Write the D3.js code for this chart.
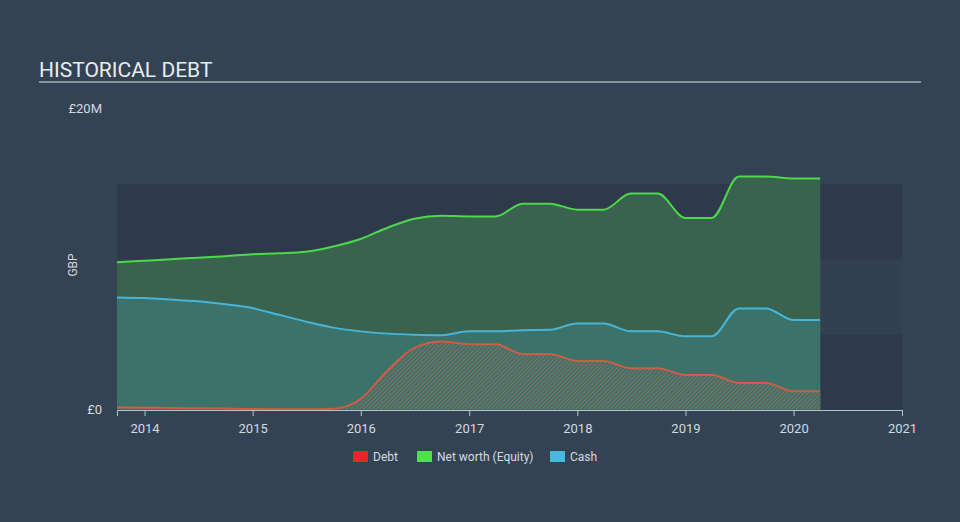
<!DOCTYPE html>
<html>
<head>
<meta charset="utf-8">
<style>
  body { margin: 0; background: #344354; }
  svg { display: block; font-family: Roboto, "Open Sans", sans-serif; }
  .axis .domain { stroke: #b8c2cc; }
  .axis line { stroke: #b8c2cc; }
  .axis text { fill: #d4d9df; font-size: 13px; font-family: Roboto, sans-serif; }
</style>
<script src="https://cdn.jsdelivr.net/npm/d3@7"></script>
</head>
<body>
<svg width="960" height="522"></svg>
<script>
// quarter ends, Sep 2013 .. Mar 2020
var dates = ["2013-09-30","2013-12-31","2014-03-31","2014-06-30","2014-09-30","2014-12-31",
  "2015-03-31","2015-06-30","2015-09-30","2015-12-31","2016-03-31","2016-06-30","2016-09-30",
  "2016-12-31","2017-03-31","2017-06-30","2017-09-30","2017-12-31","2018-03-31","2018-06-30",
  "2018-09-30","2018-12-31","2019-03-31","2019-06-30","2019-09-30","2019-12-31","2020-03-31"];

// values in £M
var equity = [9.8, 9.9, 10.0, 10.1, 10.2, 10.33, 10.4, 10.5, 10.85, 11.35, 12.1, 12.7, 12.9,
  12.85, 12.85, 13.7, 13.7, 13.3, 13.3, 14.37, 14.37, 12.75, 12.75, 15.5, 15.5, 15.37, 15.37];
var cash = [7.46, 7.42, 7.32, 7.2, 7.0, 6.75, 6.3, 5.85, 5.45, 5.2, 5.05, 4.98, 4.95,
  5.2, 5.2, 5.28, 5.3, 5.73, 5.73, 5.2, 5.2, 4.87, 4.87, 6.73, 6.73, 5.96, 5.96];
var debt = [0.15, 0.12, 0.1, 0.08, 0.06, 0.04, 0.02, 0.01, 0.05, 0.7, 2.6, 4.1, 4.52,
  4.35, 4.35, 3.7, 3.7, 3.23, 3.23, 2.75, 2.75, 2.3, 2.3, 1.77, 1.77, 1.22, 1.22];

var yTicks = [0, 20];
var yTickLabels = ["£0", "£20M"];
var bands = [[0, 5], [10, 15]];
var legendItems = ["Debt", "Net worth (Equity)", "Cash"];

var svg = d3.select("svg");
var parse = d3.timeParse("%Y-%m-%d");
var data = dates.map(function(d, i) {
  return { date: parse(d), equity: equity[i], cash: cash[i], debt: debt[i] };
});

var plotLeft = 117, plotRight = 902, plotTop = 109, plotBottom = 409.5;

var x = d3.scaleTime()
  .domain([parse("2013-09-30"), parse("2021-01-01")])
  .range([plotLeft, plotRight]);
var y = d3.scaleLinear().domain([0, 20]).range([plotBottom, plotTop]);

// title
svg.append("text")
  .attr("x", 39).attr("y", 77)
  .attr("fill", "#e9ecef")
  .style("font-size", "21px")
  .text("HISTORICAL DEBT");
svg.append("line")
  .attr("x1", 39).attr("x2", 921).attr("y1", 82).attr("y2", 82)
  .attr("stroke", "#a9b1ba").attr("stroke-width", 1.5);

// background bands
svg.append("rect")
  .attr("x", plotLeft).attr("y", y(15))
  .attr("width", plotRight - plotLeft).attr("height", y(0) - y(15))
  .attr("fill", "#324050");
svg.selectAll("rect.band").data(bands).enter().append("rect")
  .attr("class", "band")
  .attr("x", plotLeft).attr("width", plotRight - plotLeft)
  .attr("y", function(d) { return y(d[1]); })
  .attr("height", function(d) { return y(d[0]) - y(d[1]); })
  .attr("fill", "#2e3a4a");

// hatch pattern for debt
var defs = svg.append("defs");
var pat = defs.append("pattern")
  .attr("id", "hatch")
  .attr("patternUnits", "userSpaceOnUse")
  .attr("width", 3).attr("height", 3)
  .attr("patternTransform", "rotate(45)");
pat.append("rect").attr("width", 3).attr("height", 3).attr("fill", "#3f7168");
pat.append("line")
  .attr("x1", 0).attr("y1", 0).attr("x2", 0).attr("y2", 3)
  .attr("stroke", "#a8705f").attr("stroke-width", 1.3);

var curve = d3.curveMonotoneX;
function area(key) {
  return d3.area().curve(curve)
    .x(function(d) { return x(d.date); })
    .y0(y(0))
    .y1(function(d) { return y(d[key]); });
}
function line(key) {
  return d3.line().curve(curve)
    .x(function(d) { return x(d.date); })
    .y(function(d) { return y(d[key]); });
}

svg.append("path").datum(data).attr("d", area("equity"))
  .attr("fill", "#39624f");
svg.append("path").datum(data).attr("d", area("cash"))
  .attr("fill", "#3b736a");
svg.append("path").datum(data).attr("d", area("debt"))
  .attr("fill", "url(#hatch)");

svg.append("path").datum(data).attr("d", line("equity"))
  .attr("fill", "none").attr("stroke", "#4cd94a").attr("stroke-width", 2);
svg.append("path").datum(data).attr("d", line("cash"))
  .attr("fill", "none").attr("stroke", "#47b5d8").attr("stroke-width", 2);
svg.append("path").datum(data).attr("d", line("debt"))
  .attr("fill", "none").attr("stroke", "#cf5c45").attr("stroke-width", 2);

// x axis
var xAxis = d3.axisBottom(x)
  .ticks(d3.timeYear.every(1))
  .tickFormat(d3.timeFormat("%Y"))
  .tickSizeOuter(0)
  .tickSize(6);
var gx = svg.append("g")
  .attr("class", "axis")
  .attr("transform", "translate(0," + (plotBottom + 0.5) + ")")
  .call(xAxis);
gx.attr("font-family", null).attr("font-size", null);
gx.selectAll("text").attr("dy", "1.05em");

// y labels
svg.selectAll("text.ylab").data(yTicks).enter().append("text")
  .attr("class", "ylab")
  .attr("x", 102)
  .attr("y", function(d) { return y(d) + 4; })
  .attr("text-anchor", "end")
  .attr("fill", "#d4d9df")
  .style("font-size", "13px")
  .text(function(d, i) { return yTickLabels[i]; });

svg.append("text")
  .attr("transform", "translate(77,265) rotate(-90)")
  .attr("text-anchor", "middle")
  .attr("fill", "#d4d9df")
  .style("font-size", "12px")
  .text("GBP");

// legend
var legendColors = ["#e8262a", "#4fe04f", "#47b8de"];
var legendX = [353, 417, 550];
var lg = svg.selectAll("g.leg").data(legendItems).enter().append("g")
  .attr("class", "leg")
  .attr("transform", function(d, i) { return "translate(" + legendX[i] + ",451)"; });
lg.append("rect").attr("width", 15).attr("height", 11)
  .attr("fill", function(d, i) { return legendColors[i]; });
lg.append("text").attr("x", 20).attr("y", 10)
  .attr("fill", "#d4d9df")
  .style("font-size", "12px")
  .text(function(d) { return d; });
</script>
</body>
</html>
